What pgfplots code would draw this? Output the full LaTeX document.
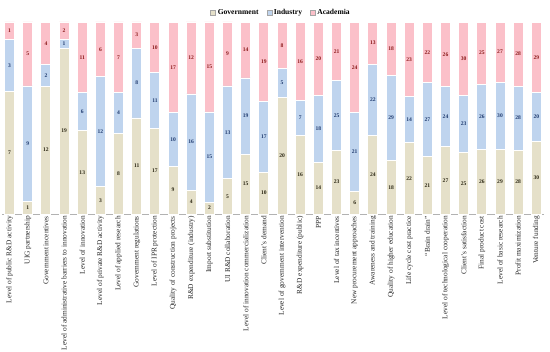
\documentclass[border=0pt]{standalone}
\usepackage{pgfplots}
\pgfplotsset{compat=1.18}
\usepackage{pgfplotstable}
\usepackage{fontspec}
\setmainfont{Liberation Serif}
\definecolor{gov}{HTML}{E5E0C9}
\definecolor{ind}{HTML}{BFD4EE}
\definecolor{aca}{HTML}{FBC0C9}
\definecolor{govT}{HTML}{2B2714}
\definecolor{indT}{HTML}{1F3A6E}
\definecolor{acaT}{HTML}{8B1A1A}
\pgfplotstableread{
x g i a
0 7 3 1
1 1 9 5
2 12 2 4
3 19 1 2
4 13 6 11
5 3 12 6
6 8 4 7
7 11 8 3
8 17 11 10
9 9 10 17
10 4 16 12
11 2 15 15
12 5 13 9
13 15 19 14
14 10 17 19
15 20 5 8
16 16 7 16
17 14 18 20
18 23 25 21
19 6 21 24
20 24 22 13
21 18 29 18
22 22 14 23
23 21 27 22
24 27 24 26
25 25 23 30
26 26 26 25
27 29 30 27
28 28 28 28
29 30 20 29
}\data
\begin{document}
\begin{tikzpicture}
\pgfplotsset{
  common/.style={
    scale only axis, width=542bp, height=192bp,
    xmin=-0.42, xmax=29.42, ymin=0, ymax=100,
    at={(0,0)}, anchor=origin,
  }
}
\begin{axis}[common,
  ybar stacked, bar width=10bp,
  axis y line=none, axis x line*=bottom,
  x axis line style={gray!60},
  xtick=data, major tick length=0pt,
  xticklabels={Level of public R\&D activity, UIG partnership, Government incentives, Level of administrative barriers to innovation, Level of innovation, Level of private R\&D activity, Level of applied research, Government regulations, Level of IPR protection, Quality of construction projects, R\&D expenditure (industry), Import substitution, UI R\&D collaboration, Level of innovation commercialization, Client’s demand, Level of government intervention, R\&D expenditure (public), PPP, Level of tax incentives, New procurement approaches, Awareness and training, Quality of higher education, Life cycle cost practice, “Brain drain”, Level of technological cooperation, Client’s satisfaction, Final product cost, Level of basic research, Profit maximization, Venture funding},
  xticklabel style={rotate=90, anchor=east, font=\fontsize{7.4}{8}\selectfont, text=black!85, inner sep=2bp},
  legend style={at={(0.515,1)}, anchor=south, yshift=2bp, draw=none, fill=none,
    font=\fontsize{7.6}{9}\selectfont\bfseries, legend columns=3,
    /tikz/every even column/.append style={column sep=6bp}},
  legend image code/.code={\draw[#1, draw=gray!70, line width=0.3bp] (0bp,-2.5bp) rectangle (5bp,2.5bp);},
]
\addplot[draw=white, line width=0.9bp, fill=gov]
  table[x=x, y expr={\thisrow{g}/(\thisrow{g}+\thisrow{i}+\thisrow{a})*100}]{\data};
\addplot[draw=white, line width=0.9bp, fill=ind]
  table[x=x, y expr={\thisrow{i}/(\thisrow{g}+\thisrow{i}+\thisrow{a})*100}]{\data};
\addplot[draw=white, line width=0.9bp, fill=aca]
  table[x=x, y expr={\thisrow{a}/(\thisrow{g}+\thisrow{i}+\thisrow{a})*100}]{\data};
\legend{Government, Industry, Academia}
\end{axis}
\begin{axis}[common, hide axis,
  nodes near coords, point meta=explicit symbolic,
  every node near coord/.append style={anchor=center, inner sep=0pt, font=\fontsize{5.6}{6}\selectfont\bfseries},
]
\addplot[only marks, mark=none, nodes near coords style={text=govT}]
  table[x=x, y expr={\thisrow{g}/(\thisrow{g}+\thisrow{i}+\thisrow{a})*50}, meta=g]{\data};
\addplot[only marks, mark=none, nodes near coords style={text=indT}]
  table[x=x, y expr={(\thisrow{g}+0.5*\thisrow{i})/(\thisrow{g}+\thisrow{i}+\thisrow{a})*100}, meta=i]{\data};
\addplot[only marks, mark=none, nodes near coords style={text=acaT}]
  table[x=x, y expr={(\thisrow{g}+\thisrow{i}+0.5*\thisrow{a})/(\thisrow{g}+\thisrow{i}+\thisrow{a})*100}, meta=a]{\data};
\end{axis}
\pgfresetboundingbox
\path (-9.6bp,-138bp) rectangle (540.4bp,214bp);
\end{tikzpicture}
\end{document}
